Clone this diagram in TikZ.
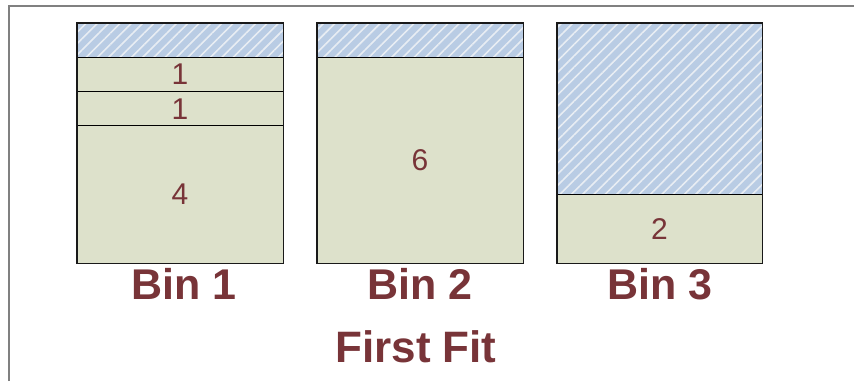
\documentclass[tikz,border=0pt]{standalone}
\usepackage{fontspec}
\setmainfont{Liberation Sans}
\usetikzlibrary{patterns.meta}
\definecolor{txt}{RGB}{120,52,56}
\definecolor{itemfill}{RGB}{221,225,203}
\definecolor{freefill}{RGB}{185,204,228}
\definecolor{hatchline}{RGB}{232,237,243}
\definecolor{framegray}{RGB}{128,128,128}
\begin{document}
\begin{tikzpicture}[x=1pt,y=-1pt,
  item/.style={draw=black, line width=0.8pt, fill=itemfill, rectangle, inner sep=0pt,
    minimum width=206pt, text=txt, font=\fontsize{30}{36}\selectfont},
  free/.style={fill=freefill, rectangle, inner sep=0pt, outer sep=0pt,
    minimum width=206pt,
    postaction={pattern={Lines[angle=45,distance=8pt,line width=1.6pt]}, pattern color=hatchline}},
  binlabel/.style={text=txt, font=\bfseries\fontsize{43}{48}\selectfont, inner sep=0pt, anchor=base},
  binframe/.style={draw=black!90, line width=1.3pt}
]
\useasboundingbox (0,0) rectangle (854,381);
\fill[white] (0,0) rectangle (854,381);
\draw[framegray, line width=1.5pt] (9,381) -- (9,6) -- (854,6);

% Bin 1
\node[free, minimum height=34.29pt] (b1f) at (180,40.14) {};
\node[item, minimum height=34.29pt] (b1a) at (180,74.43) {1};
\node[item, minimum height=34.29pt] (b1b) at (180,108.71) {1};
\node[item, minimum height=137.14pt] (b1c) at (180,194.43) {4};
\draw[binframe] (b1f.north west) rectangle (b1c.south east);

% Bin 2
\node[free, minimum height=34.29pt] (b2f) at (420,40.14) {};
\node[item, minimum height=205.71pt] (b2a) at (420,160.14) {6};
\draw[binframe] (b2f.north west) rectangle (b2a.south east);

% Bin 3
\node[free, minimum height=171.43pt, minimum width=205pt] (b3f) at (659.5,108.71) {};
\node[item, minimum height=68.57pt, minimum width=205pt] (b3a) at (659.5,228.71) {2};
\draw[binframe] (b3f.north west) rectangle (b3a.south east);

% labels
\node[binlabel] (l1) at (184,299) {Bin 1};
\node[binlabel] (l2) at (420,299) {Bin 2};
\node[binlabel] (l3) at (660,299) {Bin 3};
\node[binlabel, font=\bfseries\fontsize{44}{50}\selectfont] (title) at (416,362) {First Fit};
\end{tikzpicture}
\end{document}
